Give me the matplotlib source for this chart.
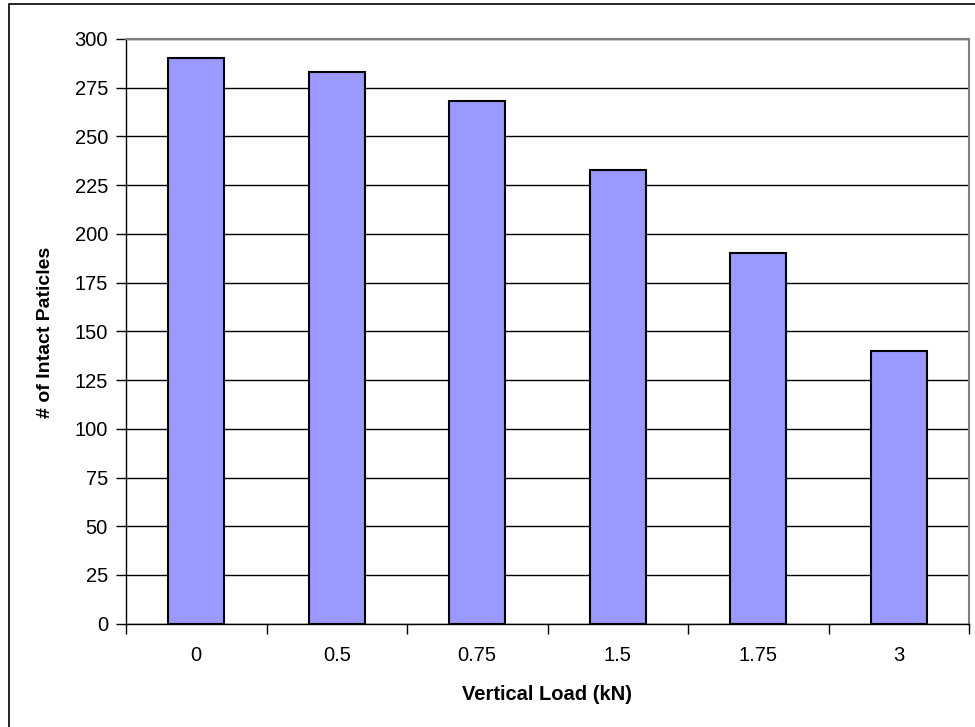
import matplotlib
matplotlib.use("Agg")
import matplotlib.pyplot as plt
from matplotlib.patches import Rectangle

loads = ["0", "0.5", "0.75", "1.5", "1.75", "3"]
intact = [290, 283, 268, 233, 190, 140]
yticks = list(range(0, 301, 25))

plt.rcParams["font.family"] = ["Liberation Sans", "DejaVu Sans"]

fig = plt.figure(figsize=(9.75, 7.27), dpi=100)
W, H = 975, 727
ax = fig.add_axes([126 / W, 1 - 623.7 / H, (969 - 126) / W, (623.7 - 39) / H])

# outer chart frame (cut off at right/bottom like the original)
fig.patches.append(Rectangle((9 / W, -0.05), 1.2, 1 - 4 / H + 0.05, transform=fig.transFigure,
	fill=False, edgecolor="black", linewidth=1.2, zorder=0))

pos = [i + 0.5 for i in range(len(loads))]
ax.bar(pos, intact, width=0.4, color="#9999FF", edgecolor="black", linewidth=1.5, zorder=3)

ax.set_xlim(0, len(loads))
ax.set_ylim(0, 300)
ax.set_yticks(yticks)
ax.yaxis.grid(True, color="black", linewidth=1, zorder=0)
ax.set_axisbelow(True)

ax.set_xticks(pos)
ax.set_xticklabels(loads)
ax.set_xticks(range(len(loads) + 1), minor=True)
ax.tick_params(axis="x", which="major", length=0, pad=16, labelsize=14.5)
ax.tick_params(axis="x", which="minor", length=7, width=1, direction="out")
ax.tick_params(axis="y", length=7, width=1, direction="out", pad=6, labelsize=14.5)

for s in ["top", "right"]:
	ax.spines[s].set_color("#808080")
	ax.spines[s].set_linewidth(1.5)
for s in ["left", "bottom"]:
	ax.spines[s].set_color("black")
	ax.spines[s].set_linewidth(1)

ax.set_xlabel("Vertical Load (kN)", fontsize=14.5, fontweight="bold")
ax.set_ylabel("# of Intact Paticles", fontsize=14, fontweight="bold")
ax.xaxis.label.set_va("center")
ax.yaxis.label.set_va("center")
ax.xaxis.set_label_coords((546.5 - 126) / 843, (623.7 - 695) / 584.7)
ax.yaxis.set_label_coords((46 - 126) / 843, (623.7 - 332) / 584.7)

fig.savefig("out.png", dpi=100)
